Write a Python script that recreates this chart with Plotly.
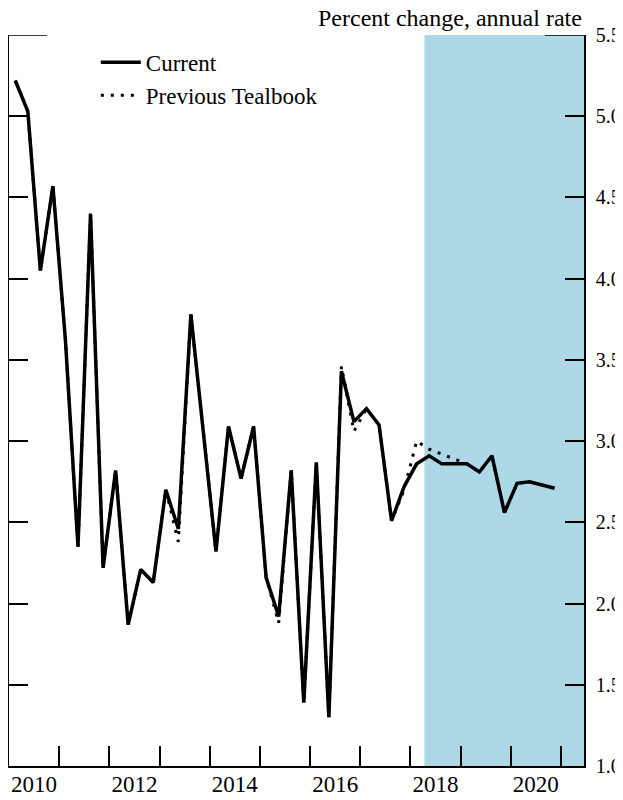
import plotly.graph_objects as go

# Quarterly data, 2010Q1 - 2020Q4 (plotted at quarter midpoints)
years = list(range(2010, 2021))
quarters = [1, 2, 3, 4]
current = [
    5.22, 5.03, 4.05, 4.57, 3.62, 2.35, 4.40, 2.22, 2.82, 1.87, 2.21, 2.13, 2.70, 2.46, 3.78, 3.05,
    2.32, 3.09, 2.77, 3.09, 2.16, 1.92, 2.82, 1.39, 2.87, 1.30, 3.43, 3.12, 3.20, 3.10, 2.51, 2.72,
    2.86, 2.91, 2.86, 2.86, 2.86, 2.81, 2.91, 2.56, 2.74, 2.75, 2.73, 2.71,
]
previous = [
    5.22, 5.03, 4.05, 4.57, 3.62, 2.35, 4.40, 2.22, 2.82, 1.87, 2.21, 2.13, 2.70, 2.38, 3.78, 3.05,
    2.32, 3.09, 2.77, 3.09, 2.16, 1.88, 2.82, 1.39, 2.87, 1.30, 3.46, 3.06, 3.20, 3.10, 2.51, 2.70,
    3.00, 2.95, 2.92, 2.89, 2.86, 2.81, 2.91, 2.56, 2.74, 2.75, 2.73, 2.71,
]
year_labels = ["2010", "2012", "2014", "2016", "2018", "2020"]
label_years = [2010, 2012, 2014, 2016, 2018, 2020]
boundary_years = list(range(2011, 2022))
y_ticks = [1.0, 1.5, 2.0, 2.5, 3.0, 3.5, 4.0, 4.5, 5.0, 5.5]
forecast_start = 2018.28
x_range = [2010.0, 2021.46]

x = [y + (q - 0.5) / 4 for y in years for q in quarters]

FONT = "Liberation Serif, Times New Roman, serif"
FS = 23

fig = go.Figure()
fig.add_trace(go.Scatter(
    x=x, y=previous, mode="lines", name="Previous Tealbook",
    line=dict(color="black", width=3, dash="3px,7px"), legendrank=2,
))
fig.add_trace(go.Scatter(
    x=x, y=current, mode="lines", name="Current",
    line=dict(color="black", width=3.5), legendrank=1,
))

fig.add_shape(type="rect", xref="x", yref="paper", x0=forecast_start, x1=x_range[1],
              y0=0, y1=1, fillcolor="#ADD8E6", line=dict(width=0), layer="below")
# longer top ticks at 5.5 on both sides
fig.add_shape(type="line", xref="paper", yref="y", x0=0, x1=0.066, y0=5.5, y1=5.5,
              line=dict(color="black", width=1.5))
fig.add_shape(type="line", xref="paper", yref="y", x0=0.932, x1=1, y0=5.5, y1=5.5,
              line=dict(color="black", width=1.5))

fig.add_annotation(text="Percent change, annual rate", xref="paper", yref="paper",
                   x=1, y=1, xanchor="right", yanchor="bottom", yshift=2, showarrow=False,
                   font=dict(family=FONT, size=24, color="black"))

# The page body adds an 8px offset; the figure is sized so it ends at the window edge.
fig.update_layout(
    width=615, height=792,
    margin=dict(l=1, r=39, t=27, b=34, autoexpand=False),
    paper_bgcolor="white", plot_bgcolor="white",
    font=dict(family=FONT, size=FS, color="black"),
    showlegend=True,
    legend=dict(x=0.151, y=0.992, xanchor="left", yanchor="top",
                bgcolor="rgba(0,0,0,0)", font=dict(family=FONT, size=FS, color="black"),
                itemwidth=40, tracegroupgap=0),
    xaxis=dict(
        range=x_range, showgrid=False, zeroline=False, automargin=False,
        showline=True, linecolor="black", linewidth=1.5, mirror=False,
        tickmode="array", tickvals=[v + 0.5 for v in label_years], ticktext=year_labels,
        ticks="", tickfont=dict(family=FONT, size=FS, color="black"), ticklabelstandoff=-3,
        minor=dict(tickmode="array", tickvals=boundary_years, ticks="inside",
                   ticklen=20, tickwidth=1.5, tickcolor="black", showgrid=False),
    ),
    yaxis=dict(
        range=[1.0, 5.5], side="right", showgrid=False, zeroline=False, automargin=False,
        showline=True, linecolor="black", linewidth=1.5, mirror="ticks",
        tickmode="array", tickvals=y_ticks, tickformat=".1f",
        ticks="inside", ticklen=19, tickwidth=1.5, tickcolor="black",
        tickfont=dict(family=FONT, size=20, color="black"), ticklabelstandoff=6,
    ),
)

fig.write_html("out.html")
